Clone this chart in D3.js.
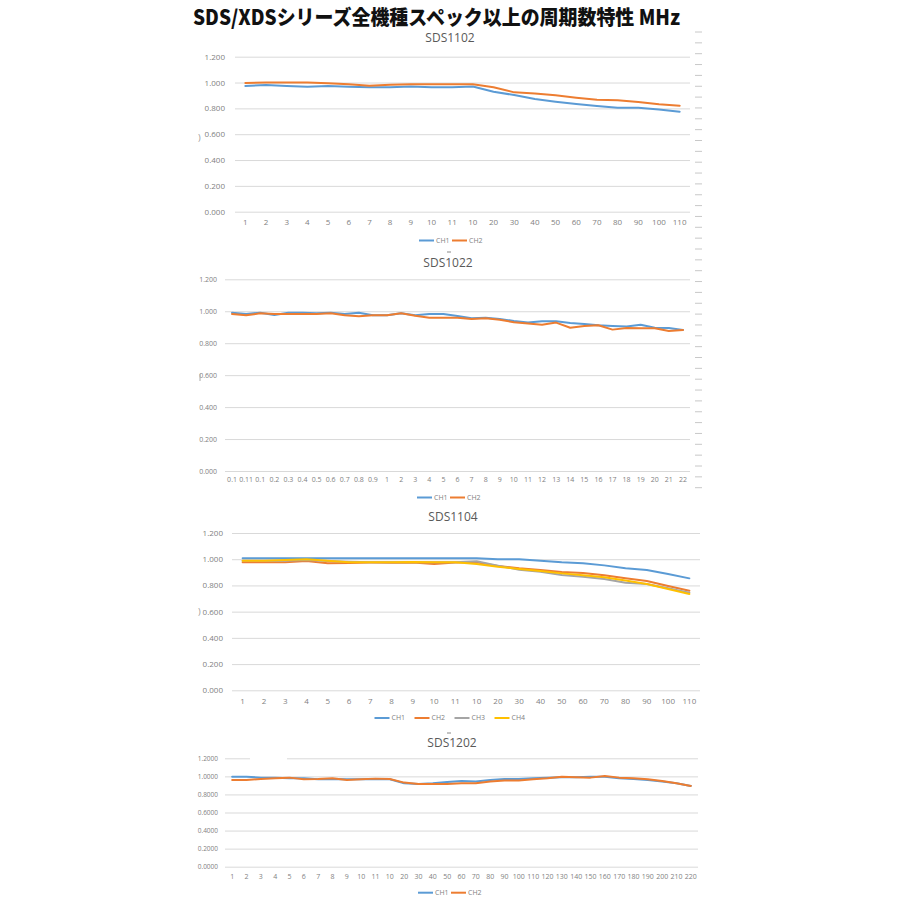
<!DOCTYPE html>
<html>
<head>
<meta charset="utf-8">
<script src="https://cdn.jsdelivr.net/npm/d3@7/dist/d3.min.js"></script>
<style>
  html,body{margin:0;padding:0;background:#fff;}
  svg{display:block;}
</style>
</head>
<body>
<svg id="chart" width="900" height="900"></svg>
<script>
// ---------- DATA ----------
const mainTitle = "SDS/XDSシリーズ全機種スペック以上の周期数特性 MHz";

const cats1102 = ["1","2","3","4","5","6","7","8","9","10","11","10","20","30","40","50","60","70","80","90","100","110"];
const ch1_1102 = [0.973,0.981,0.973,0.968,0.973,0.968,0.963,0.963,0.970,0.963,0.963,0.970,0.929,0.903,0.872,0.852,0.834,0.818,0.805,0.805,0.792,0.774];
const ch2_1102 = [0.996,1.001,1.001,1.001,0.994,0.986,0.975,0.983,0.986,0.986,0.986,0.986,0.963,0.924,0.916,0.901,0.883,0.867,0.862,0.849,0.831,0.821];

const cats1022 = ["0.1","0.11","0.1","0.2","0.3","0.4","0.5","0.6","0.7","0.8","0.9","1","2","3","4","5","6","7","8","9","10","11","12","13","14","15","16","17","18","19","20","21","22"];
const ch1_1022 = [0.991,0.983,0.991,0.977,0.991,0.991,0.987,0.991,0.983,0.991,0.975,0.975,0.987,0.975,0.983,0.983,0.970,0.956,0.960,0.952,0.939,0.929,0.937,0.937,0.927,0.920,0.912,0.908,0.904,0.916,0.897,0.895,0.883];
const ch2_1022 = [0.983,0.975,0.987,0.983,0.983,0.983,0.983,0.987,0.975,0.968,0.975,0.975,0.987,0.972,0.960,0.960,0.960,0.952,0.956,0.947,0.931,0.924,0.916,0.929,0.897,0.908,0.912,0.885,0.895,0.893,0.893,0.876,0.883];

const cats1104 = ["1","2","3","4","5","6","7","8","9","10","11","10","20","30","40","50","60","70","80","90","100","110"];
const ch1_1104 = [1.007,1.007,1.007,1.007,1.007,1.007,1.007,1.007,1.007,1.007,1.007,1.007,0.999,0.999,0.989,0.976,0.969,0.953,0.931,0.918,0.887,0.854];
const ch2_1104 = [0.976,0.976,0.976,0.986,0.969,0.971,0.974,0.974,0.974,0.964,0.974,0.976,0.948,0.931,0.918,0.903,0.895,0.877,0.854,0.834,0.796,0.760];
const ch3_1104 = [0.989,0.989,0.989,0.994,0.986,0.981,0.976,0.976,0.976,0.976,0.976,0.984,0.951,0.920,0.905,0.880,0.867,0.849,0.821,0.811,0.778,0.745];
const ch4_1104 = [0.989,0.989,0.994,0.999,0.989,0.976,0.976,0.976,0.979,0.976,0.976,0.964,0.943,0.926,0.910,0.892,0.877,0.862,0.837,0.811,0.773,0.735];

const cats1202 = ["1","2","3","4","5","6","7","8","9","10","11","10","20","30","40","50","60","70","80","90","100","110","120","130","140","150","160","170","180","190","200","210","220"];
const ch1_1202 = [0.997,0.997,0.986,0.986,0.979,0.979,0.968,0.971,0.968,0.968,0.971,0.968,0.923,0.916,0.923,0.938,0.949,0.942,0.960,0.971,0.971,0.979,0.986,0.990,0.990,0.997,0.997,0.979,0.971,0.960,0.942,0.923,0.894];
const ch2_1202 = [0.960,0.960,0.971,0.979,0.986,0.968,0.971,0.979,0.960,0.968,0.975,0.971,0.931,0.916,0.916,0.916,0.923,0.923,0.942,0.953,0.953,0.968,0.979,0.997,0.990,0.986,1.004,0.986,0.979,0.968,0.949,0.923,0.894];

const yTicks = [0,0.2,0.4,0.6,0.8,1.0,1.2];
const seriesNames = ["CH1","CH2","CH3","CH4"];
const seriesColors = ["#5B9BD5","#ED7D31","#A5A5A5","#FFC000"];

// ---------- DRAW ----------
const svg = d3.select("#chart");
const tickColor = "#7f7f7f";
const gridColor = "#d9d9d9";

// right-side decorative dashes (screen artefact in the reference)
const dashG = svg.append("g");
for (let yy = 32; yy <= 498; yy += 10.85) {
  dashG.append("line").attr("x1",695).attr("x2",702).attr("y1",yy).attr("y2",yy)
    .attr("stroke","#c8c8c8").attr("stroke-width",1);
}

svg.append("text")
  .attr("x",193).attr("y",24.5)
  .attr("textLength",487).attr("lengthAdjust","spacingAndGlyphs")
  .style("font-family","'Noto Sans CJK JP','Noto Sans',sans-serif")
  .style("font-weight","900").style("font-size","20.5px").attr("fill","#111")
  .text(mainTitle);

function drawChart(o){
  const g = svg.append("g");
  const x = d3.scaleBand().domain(d3.range(o.cats.length)).range([o.x0,o.x1]);
  const y = d3.scaleLinear().domain([0,1.2]).range([o.yBottom,o.yTop]);

  // title
  g.append("text").attr("x",o.titleX).attr("y",o.titleY).attr("text-anchor","middle")
    .style("font-family","'Open Sans','Noto Sans',sans-serif").style("font-size","12px")
    .attr("fill","#595959").text(o.title);

  // y axis with gridlines
  const ya = g.append("g").attr("transform",`translate(${o.x0},0)`)
    .call(d3.axisLeft(y).tickValues(yTicks).tickFormat(d3.format(o.fmt))
      .tickSize(-(o.x1-o.x0)).tickPadding(o.pad));
  ya.select(".domain").remove();
  ya.selectAll(".tick line").attr("stroke",gridColor).attr("stroke-width",1);
  ya.selectAll(".tick text").attr("fill",tickColor)
    .style("font-family","'Open Sans','Noto Sans',sans-serif").style("font-size",o.yfs+"px");

  // x axis labels
  const xa = g.append("g").attr("transform",`translate(0,${o.xLabelY})`)
    .call(d3.axisBottom(x).tickFormat(i=>o.cats[i]).tickSize(0).tickPadding(0));
  xa.select(".domain").remove();
  xa.selectAll(".tick text").attr("fill",tickColor).attr("dy","0.35em")
    .style("font-family","'Open Sans','Noto Sans',sans-serif").style("font-size",o.xfs+"px");

  if (o.afterGrid) o.afterGrid(g, x, y);

  // lines
  const line = d3.line().x((d,i)=>x(i)+x.bandwidth()/2).y(d=>y(d));
  o.series.forEach((s,k)=>{
    g.append("path").datum(s).attr("d",line).attr("fill","none")
      .attr("stroke",seriesColors[k]).attr("stroke-width",2)
      .attr("stroke-linejoin","round").attr("stroke-linecap","round");
  });

  // legend
  const n = o.series.length;
  const total = n*o.legStep - (o.legStep-33);
  let lx = o.legendCX - total/2;
  o.series.forEach((s,k)=>{
    const lg = g.append("g").attr("transform",`translate(${lx + k*o.legStep},${o.legendY})`);
    lg.append("line").attr("x1",0).attr("x2",15).attr("y1",0).attr("y2",0)
      .attr("stroke",seriesColors[k]).attr("stroke-width",2);
    lg.append("text").attr("x",17).attr("y",0).attr("dy","0.35em").attr("fill",tickColor)
      .style("font-family","'Open Sans','Noto Sans',sans-serif").style("font-size","7px")
      .text(seriesNames[k]);
  });
  return g;
}

drawChart({title:"SDS1102", titleX:450, titleY:42, cats:cats1102, series:[ch1_1102,ch2_1102],
  x0:235, x1:690, yTop:56.7, yBottom:211.7, fmt:".3f", pad:10, yfs:8, xfs:8,
  xLabelY:222.5, legendY:240.5, legendCX:452, legStep:33});

drawChart({title:"SDS1022", titleX:448, titleY:267, cats:cats1022, series:[ch1_1022,ch2_1022],
  x0:225, x1:690, yTop:279.3, yBottom:471, fmt:".3f", pad:8, yfs:7, xfs:7,
  xLabelY:479.5, legendY:497.5, legendCX:450, legStep:33});

drawChart({title:"SDS1104", titleX:453, titleY:521, cats:cats1104, series:[ch1_1104,ch2_1104,ch3_1104,ch4_1104],
  x0:232, x1:700, yTop:533, yBottom:690.3, fmt:".3f", pad:9, yfs:8, xfs:8,
  xLabelY:701, legendY:718, legendCX:451, legStep:40});

drawChart({title:"SDS1202", titleX:452, titleY:747, cats:cats1202, series:[ch1_1202,ch2_1202],
  x0:225, x1:698, yTop:758.3, yBottom:866.7, fmt:".4f", pad:7, yfs:6.5, xfs:7,
  xLabelY:876.7, legendY:892.7, legendCX:451, legStep:33,
  afterGrid:(g)=>{ g.append("rect").attr("x",250).attr("y",756).attr("width",37).attr("height",5).attr("fill","#fff"); }});

// small artefacts in the reference
const art = svg.append("g").attr("fill","#999")
  .style("font-family","'Open Sans',sans-serif").style("font-size","9px");
art.append("text").attr("x",198).attr("y",141).text(")");
art.append("text").attr("x",198).attr("y",615).text(")");
art.append("line").attr("x1",200).attr("x2",200).attr("y1",374).attr("y2",381).attr("stroke","#aaa");
[449].forEach(xx=>{
  art.append("line").attr("x1",xx-2).attr("x2",xx+2).attr("y1",252).attr("y2",252).attr("stroke","#888");
  art.append("line").attr("x1",xx-2).attr("x2",xx+2).attr("y1",733).attr("y2",733).attr("stroke","#888");
});
</script>
</body>
</html>
